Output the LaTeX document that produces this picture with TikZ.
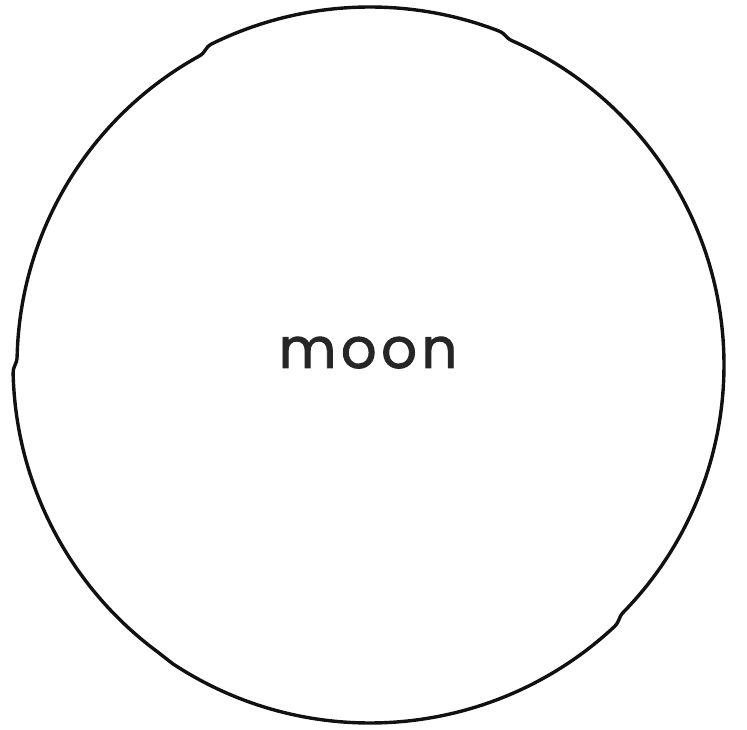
\documentclass[tikz,border=0pt]{standalone}
\usepackage{fontspec}
\newfontfamily\moonfont[LetterSpace=8,FakeBold=1.6]{Poppins}
\definecolor{ink}{HTML}{111111}
\definecolor{txt}{HTML}{262626}
\tikzset{outline/.style={draw=ink, line width=3.4pt, line join=round, line cap=round}}
\begin{document}
\begin{tikzpicture}
\useasboundingbox (0pt,0pt) rectangle (747pt,729pt);
\coordinate (c) at (370pt,364pt);
\draw[outline] ([shift={(c)}]236.5:358pt) arc[start angle=236.5,end angle=313,radius=358pt]
 .. controls ([shift={(c)}]314.4:358pt) and ([shift={(c)}]314.4:354pt) .. ([shift={(c)}]315.8:354pt)
 arc[start angle=-44.2,end angle=66.2,radius=354pt]
 .. controls ([shift={(c)}]67.6:354pt) and ([shift={(c)}]67.6:358pt) .. ([shift={(c)}]69:358pt)
 arc[start angle=69,end angle=116.2,radius=358pt]
 .. controls ([shift={(c)}]117.6:358pt) and ([shift={(c)}]117.6:353pt) .. ([shift={(c)}]119:353pt)
 arc[start angle=119,end angle=178.6,radius=353pt]
 .. controls ([shift={(c)}]180:353pt) and ([shift={(c)}]180:357pt) .. ([shift={(c)}]181.4:357pt)
 arc[start angle=181.4,end angle=233.6,radius=357pt]
 .. controls ([shift={(c)}]235:357pt) and ([shift={(c)}]235:358pt) .. ([shift={(c)}]236.5:358pt) -- cycle;
\node[anchor=base, text=txt, inner sep=0pt, font=\moonfont\fontsize{56}{60}\selectfont] (moon) at (368pt,361pt) {moon};
\end{tikzpicture}
\end{document}
